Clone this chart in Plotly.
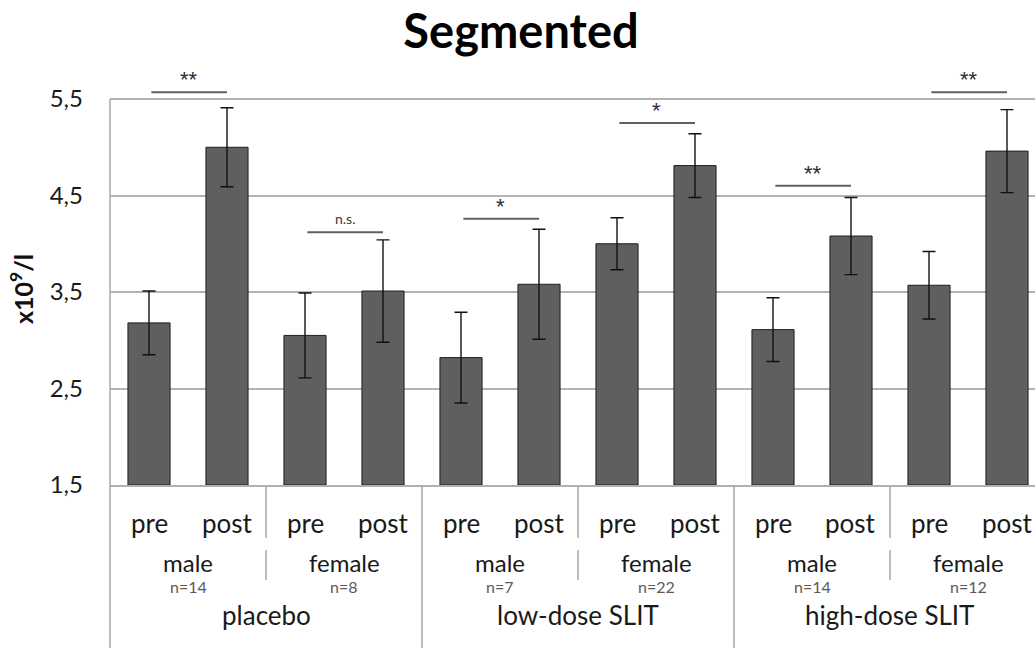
import plotly.graph_objects as go

# ---- data ----
treatments = ["placebo", "low-dose SLIT", "high-dose SLIT"]
sexes = ["male", "female"]
n_counts = ["n=14", "n=8", "n=7", "n=22", "n=14", "n=12"]
timepoints = ["pre", "post"]
means = [3.18, 5.00, 3.05, 3.51, 2.82, 3.58, 4.00, 4.81, 3.11, 4.08, 3.57, 4.96]
errors = [0.33, 0.41, 0.44, 0.53, 0.47, 0.57, 0.27, 0.33, 0.33, 0.40, 0.35, 0.43]
sig_labels = ["**", "n.s.", "*", "*", "**", "**"]
sig_heights = [5.57, 4.12, 4.26, 5.25, 4.60, 5.57]
y_ticks = [1.5, 2.5, 3.5, 4.5, 5.5]
y_ticktext = ["1,5", "2,5", "3,5", "4,5", "5,5"]

# ---- layout geometry ----
W, H = 1035, 648
ML, MR, MT, MB = 110, 0, 85, 163
plot_w = W - ML - MR
plot_h = H - MT - MB
cat_px = 78.0
ppu = 96.5
x0 = -0.5
x1 = x0 + plot_w / cat_px
y0 = 1.5
y1 = y0 + plot_h / ppu

def py2paper(py):
    return (H - MB - py) / plot_h

def cx2paper(cx):
    return (cx - x0) / (x1 - x0)

FONT = "Lato"
x_idx = list(range(len(means)))

fig = go.Figure()
fig.add_trace(go.Bar(
    x=x_idx, y=[m - y0 for m in means], base=y0,
    width=0.54,
    marker=dict(color="#5f5f5f", line=dict(color="#1f1f1f", width=1)),
    error_y=dict(type="data", array=errors, visible=True,
                 color="#111111", thickness=1.4, width=6.5),
    hoverinfo="skip",
))

shapes = []
annotations = []

def label(cx_paper, py, text, size, color="#1a1a1a", family=FONT):
    annotations.append(dict(x=cx_paper, y=py2paper(py), xref="paper", yref="paper",
                            text=text, showarrow=False, xanchor="center", yanchor="middle",
                            font=dict(family=family, size=size, color=color)))

# significance brackets
for k, (lab, h) in enumerate(zip(sig_labels, sig_heights)):
    a = 2 * k
    b = 2 * k + 1
    shapes.append(dict(type="line", xref="x", yref="y", x0=a + 0.03, x1=b,
                       y0=h, y1=h, line=dict(color="#606060", width=2)))
    if lab == "n.s.":
        annotations.append(dict(x=(a + b) / 2 + 0.01, y=h, xref="x", yref="y",
                                text=lab, showarrow=False, xanchor="center",
                                yanchor="bottom", yshift=3,
                                font=dict(family=FONT, size=14, color="#3a3a3a")))
    else:
        annotations.append(dict(x=(a + b) / 2 + 0.01, y=h, xref="x", yref="y",
                                text=lab, showarrow=False, xanchor="center",
                                yanchor="bottom", yshift=-2,
                                font=dict(family="Liberation Sans", size=22,
                                          color="#2a2a3a")))

# pre/post labels
for i in x_idx:
    label(cx2paper(i), 523, timepoints[i % 2], 26)

# sex labels + n
for j in range(6):
    c = 2 * j + 0.5
    label(cx2paper(c), 562, sexes[j % 2], 24)
    label(cx2paper(c), 586, n_counts[j], 16, color="#5a5a5a")

# treatment labels
for t, name in enumerate(treatments):
    label(cx2paper(4 * t + 1.5), 615, name, 26)

sep_col = "#a8a8a8"
# left axis line (extends into category area)
shapes.append(dict(type="line", xref="paper", yref="paper", x0=0, x1=0,
                   y0=py2paper(H), y1=py2paper(H - MB - (5.5 - y0) * ppu),
                   line=dict(color=sep_col, width=1.5)))
# major separators
for t in range(1, 3):
    xb = cx2paper(4 * t - 0.5)
    shapes.append(dict(type="line", xref="paper", yref="paper", x0=xb, x1=xb,
                       y0=py2paper(H), y1=py2paper(H - MB),
                       line=dict(color=sep_col, width=1.5)))
# minor separators
for t in range(3):
    xb = cx2paper(4 * t + 1.5)
    for (pa, pb) in [(487, 538), (550, 580)]:
        shapes.append(dict(type="line", xref="paper", yref="paper", x0=xb, x1=xb,
                           y0=py2paper(pb), y1=py2paper(pa),
                           line=dict(color=sep_col, width=1.5)))

# y-axis title
annotations.append(dict(x=-(ML - 21) / plot_w, y=py2paper(289), xref="paper", yref="paper",
                        text="<b>x10<sup>9</sup>/l</b>", showarrow=False, textangle=-90,
                        xanchor="center", yanchor="middle",
                        font=dict(family=FONT, size=25, color="#111111")))

fig.update_layout(
    width=W, height=H,
    margin=dict(l=ML, r=MR, t=MT, b=MB, pad=0, autoexpand=False),
    paper_bgcolor="white", plot_bgcolor="white",
    showlegend=False,
    title=dict(text="<b>Segmented</b>", x=521 / W, xanchor="center", xref="container",
               y=1 - 32 / H, yanchor="middle", yref="container",
               font=dict(family=FONT, size=47, color="#000000")),
    xaxis=dict(range=[x0, x1], showticklabels=False, showgrid=False, zeroline=False,
               showline=True, linecolor="#b0b0b0", linewidth=1.5, ticks="",
               fixedrange=True, automargin=False),
    yaxis=dict(range=[y0, y1], tickvals=y_ticks, ticktext=y_ticktext,
               showgrid=True, gridcolor="#b3b3b3", gridwidth=1.5, zeroline=False,
               showline=False, ticks="", ticklabelstandoff=26, automargin=False,
               tickfont=dict(family=FONT, size=24, color="#1a1a1a"),
               fixedrange=True),
    shapes=shapes,
    annotations=annotations,
    bargap=0.46,
)

fig.write_html("out.html", config={"displayModeBar": False},
               post_script="document.body.style.margin='0';document.body.style.overflow='hidden';")
